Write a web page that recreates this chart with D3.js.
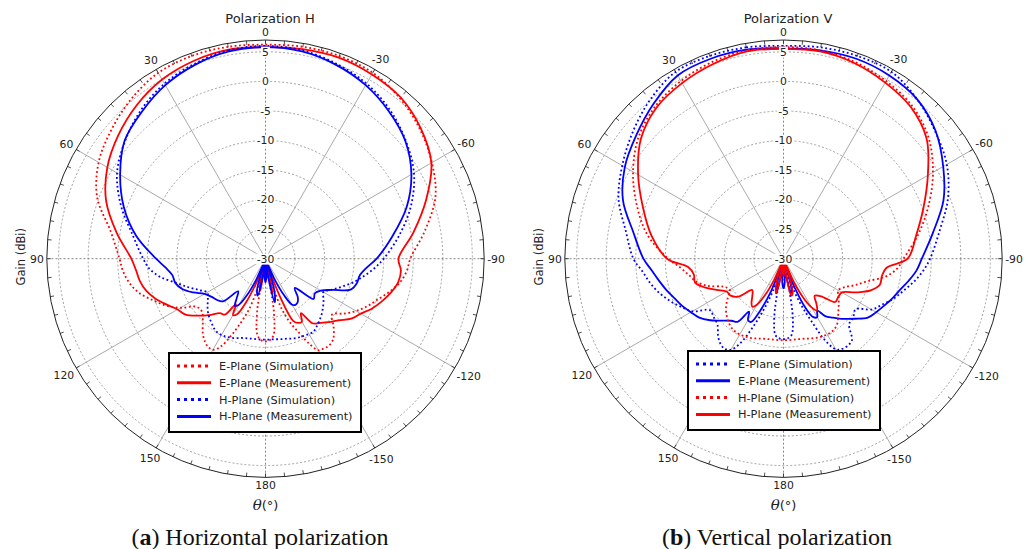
<!DOCTYPE html>
<html>
<head>
<meta charset="utf-8">
<script src="https://cdn.jsdelivr.net/npm/d3@7"></script>
<style>
  body { margin: 0; background: #fff; }
  svg { display: block; }
</style>
</head>
<body>
<svg id="fig" width="1027" height="549"></svg>
<script>
// Angles (deg) of the sampled points; left half = +theta, right half = -theta
const sideAngles = [0,10,20,30,40,50,60,70,80,90,95,100,105,110,115,120,125,130,135,140,144,147,150,153,156,159,162,165,168,171,174,177,180];
const rightAngles = sideAngles.slice(1, -1);

// Gain rings (dBi) and angle tick labels
const gainRings = [5, 0, -5, -10, -15, -20, -25];
const gainLabels = [5, 0, -5, -10, -15, -20, -25, -30];
const angleTicks = [0, 30, 60, 90, 120, 150, 180, -150, -120, -90, -60, -30];
const gainDomain = [-30, 7];

// ---- Polarization H ----
const hEPlaneSimLeft  = [6.2,6.4,6.5,6.3,5.3,4.0,2.6,0.3,-3.4,-5.3,-5.8,-6.6,-7.8,-9.6,-11.3,-13.4,-15.8,-16.0,-15.0,-13.5,-12.6,-12.2,-12.2,-13.3,-15.8,-18.5,-21,-25,-29,-21,-17,-16.2,-16.0];
const hEPlaneSimRight = [6.4,6.5,6.3,5.4,4.1,2.5,0.6,-2.6,-5.5,-6.0,-6.9,-8.3,-9.8,-11.0,-12.3,-13.8,-15.3,-13.7,-12.2,-11.8,-11.9,-12.1,-14.0,-16.5,-18.5,-21,-25,-29,-21,-17,-16.2];
const hEPlaneMeasLeft  = [5.8,5.9,5.6,5.0,3.9,2.5,0.9,-1.3,-4.4,-7.3,-8.0,-8.4,-9.1,-10.2,-11.6,-12.8,-13.5,-15.0,-16.5,-18.0,-18.3,-20.8,-19.0,-19.5,-22,-25.5,-28.5,-29,-25.5,-24.5,-29,-27,-28];
const hEPlaneMeasRight = [6.0,6.2,6.0,5.6,4.3,2.4,-1.1,-4.6,-7.5,-7.0,-7.2,-8.0,-9.0,-10.1,-11.4,-12.3,-13.8,-14.8,-15.8,-16.5,-19.0,-17.7,-17.8,-18.5,-23,-28,-29,-24,-27,-29,-27];
const hHPlaneSimLeft  = [6.0,5.8,5.1,4.2,2.8,1.0,-1.0,-4.0,-7.2,-9.3,-10.3,-12.0,-14.3,-16.0,-17.5,-18.6,-18.1,-17.2,-16.4,-15.8,-15.3,-15.1,-15.1,-15.2,-15.4,-15.6,-15.9,-16.1,-16.2,-16.3,-16.3,-16.3,-16.3];
const hHPlaneSimRight = [5.8,5.1,4.2,2.8,1.0,-1.0,-3.8,-7.0,-10.0,-11.5,-13.1,-14.6,-16.2,-17.6,-18.7,-18.0,-17.3,-16.6,-16.0,-15.5,-15.2,-15.3,-15.4,-15.5,-15.6,-15.8,-16.0,-16.1,-16.2,-16.3,-16.3];
const hHPlaneMeasLeft  = [5.8,5.6,4.9,3.9,2.5,1.1,-1.6,-4.5,-7.8,-11.5,-13.0,-14.0,-14.2,-15.0,-16.5,-18.1,-18.8,-19.2,-19.8,-22.8,-21.7,-20.5,-21.0,-23,-26,-29,-28,-24.5,-23.6,-27,-30,-27,-26];
const hHPlaneMeasRight = [5.6,4.9,3.9,2.5,0.9,-1.5,-4.6,-8.2,-11.2,-12.8,-13.8,-14.0,-14.7,-17.5,-19.2,-19.8,-19.4,-23.0,-21.5,-20.8,-20.7,-21,-23,-26,-29,-28,-24,-22.5,-26,-29,-27];

// ---- Polarization V ----
const vEPlaneSimLeft  = [6.0,6.3,6.5,6.5,5.1,3.3,1.5,-0.3,-2.9,-4.6,-6.0,-7.0,-8.1,-9.4,-10.8,-12.2,-14.8,-14.6,-14.2,-12.8,-12.0,-11.8,-12.2,-14,-17.5,-21,-24.5,-28,-27,-20,-17,-16.5,-16.4];
const vEPlaneSimRight = [6.3,6.5,6.5,5.2,3.5,1.9,-0.4,-3.2,-5.2,-6.3,-7.6,-9.0,-10.2,-11.6,-12.8,-15.1,-14.6,-14.3,-12.0,-11.7,-11.8,-12.3,-14.5,-18.5,-21.5,-24.5,-28,-27,-20,-17,-16.5];
const vEPlaneMeasLeft  = [5.6,5.9,6.0,5.8,4.2,2.5,1.0,-1.1,-4.2,-6.3,-7.6,-8.6,-9.5,-10.4,-11.1,-11.9,-12.6,-13.8,-15.2,-16.3,-16.8,-19.3,-18.0,-18.0,-20.5,-24,-28,-26,-24,-27,-30,-26,-25];
const vEPlaneMeasRight = [5.8,6.0,5.8,5.2,3.6,1.2,-1.2,-4.3,-6.6,-7.4,-8.5,-9.6,-10.4,-11.2,-11.9,-12.6,-14.2,-15.6,-17.0,-18.0,-19.5,-18.6,-18.9,-21,-25,-28,-25,-24,-27,-30,-26];
const vHPlaneSimLeft  = [5.8,5.8,5.4,4.7,3.7,2.0,-0.6,-3.6,-6.6,-10.5,-12.5,-13.8,-14.8,-16.5,-18.8,-19.5,-18.5,-17.3,-16.4,-15.7,-15.3,-15.2,-15.2,-15.3,-15.4,-15.6,-15.8,-16.0,-16.1,-16.2,-16.2,-16.2,-16.2];
const vHPlaneSimRight = [5.8,5.4,4.7,3.8,2.0,-0.8,-3.9,-6.9,-9.7,-10.7,-12.5,-15.3,-17.0,-18.6,-19.3,-18.6,-17.8,-16.9,-15.8,-15.3,-15.2,-15.2,-15.3,-15.4,-15.6,-15.8,-16.0,-16.1,-16.2,-16.2,-16.2];
const vHPlaneMeasLeft  = [5.5,5.6,5.0,4.3,3.4,1.5,-1.6,-4.7,-7.3,-10.3,-13.8,-14.6,-14.5,-15.8,-17.5,-18.9,-19.1,-20.0,-22.5,-21.8,-20.8,-20.3,-21,-23,-26,-29,-27,-25,-24,-27,-30,-28,-27];
const vHPlaneMeasRight = [5.6,5.2,4.4,3.5,1.6,-1.8,-4.8,-7.2,-9.0,-12.5,-13.1,-13.1,-14.3,-16.5,-18.6,-18.7,-18.6,-21.0,-21.8,-20.5,-19.6,-20.5,-22.5,-25.5,-29,-27,-24,-23.6,-27,-30,-28];

const RED = "#ff0000", BLUE = "#0000ff";

// Build closed polar traces: left half 0 -> 180, then right half 177 -> 10
function trace(left, right) {
  const pts = sideAngles.map((a, i) => ({ theta: a, g: left[i] }));
  for (let i = rightAngles.length - 1; i >= 0; i--) pts.push({ theta: -rightAngles[i], g: right[i] });
  return pts;
}

const panels = [
  {
    cx: 265.5, cy: 258.7, title: "Polarization H", capLetter: "a", capText: " Horizontal polarization", capX: 260,
    legendBox: { x: 169, y: 353, w: 192, h: 79 },
    series: [
      { label: "E-Plane (Simulation)",  color: RED,  dotted: true,  data: trace(hEPlaneSimLeft,  hEPlaneSimRight) },
      { label: "E-Plane (Measurement)", color: RED,  dotted: false, data: trace(hEPlaneMeasLeft, hEPlaneMeasRight) },
      { label: "H-Plane (Simulation)",  color: BLUE, dotted: true,  data: trace(hHPlaneSimLeft,  hHPlaneSimRight) },
      { label: "H-Plane (Measurement)", color: BLUE, dotted: false, data: trace(hHPlaneMeasLeft, hHPlaneMeasRight) }
    ]
  },
  {
    cx: 783.5, cy: 258.7, title: "Polarization V", capLetter: "b", capText: " Vertical polarization", capX: 777,
    legendBox: { x: 688, y: 351, w: 192, h: 79 },
    series: [
      { label: "E-Plane (Simulation)",  color: BLUE, dotted: true,  data: trace(vEPlaneSimLeft,  vEPlaneSimRight) },
      { label: "E-Plane (Measurement)", color: BLUE, dotted: false, data: trace(vEPlaneMeasLeft, vEPlaneMeasRight) },
      { label: "H-Plane (Simulation)",  color: RED,  dotted: true,  data: trace(vHPlaneSimLeft,  vHPlaneSimRight) },
      { label: "H-Plane (Measurement)", color: RED,  dotted: false, data: trace(vHPlaneMeasLeft, vHPlaneMeasRight) }
    ]
  }
];

const svg = d3.select("#fig");
const R = 218.7;
const rScale = d3.scaleLinear().domain(gainDomain).range([0, R]).clamp(true);
const rad = d => d * Math.PI / 180;
const SANS = "DejaVu Sans, Verdana, sans-serif";

panels.forEach(p => {
  const g = svg.append("g").attr("transform", `translate(${p.cx},${p.cy})`);
  // position of a polar point (theta positive = counter-clockwise from top)
  const px = (theta, r) => -Math.sin(rad(theta)) * r;
  const py = (theta, r) => -Math.cos(rad(theta)) * r;

  // gain rings
  g.selectAll("circle.ring").data(gainRings).join("circle")
    .attr("class", "ring").attr("r", d => rScale(d))
    .attr("fill", "none").attr("stroke", "#8a8a8a").attr("stroke-width", 0.8)
    .attr("stroke-dasharray", "2,2");

  // spokes every 30 degrees
  const spokes = d3.range(0, 360, 30);
  g.selectAll("line.spoke").data(spokes).join("line")
    .attr("x1", 0).attr("y1", 0)
    .attr("x2", d => px(d, R)).attr("y2", d => py(d, R))
    .attr("stroke", d => d % 90 === 0 ? "#6a6a6a" : "#949494")
    .attr("stroke-width", 0.8)
    .attr("stroke-dasharray", d => d % 90 === 0 ? "2,2" : null);

  // outer circle with inward ticks
  g.append("circle").attr("r", R).attr("fill", "none").attr("stroke", "#222").attr("stroke-width", 1);
  g.selectAll("line.tick").data(d3.range(0, 360, 5)).join("line")
    .attr("x1", d => px(d, R)).attr("y1", d => py(d, R))
    .attr("x2", d => px(d, R - 4)).attr("y2", d => py(d, R - 4))
    .attr("stroke", "#222").attr("stroke-width", 0.8);

  // traces
  const line = d3.lineRadial()
    .angle(d => -rad(d.theta))
    .radius(d => rScale(d.g))
    .curve(d3.curveCatmullRomClosed.alpha(0.5));
  g.selectAll("path.trace").data(p.series).join("path")
    .attr("class", "trace")
    .attr("d", d => line(d.data))
    .attr("fill", "none")
    .attr("stroke", d => d.color)
    .attr("stroke-width", 1.8)
    .attr("stroke-dasharray", d => d.dotted ? "1.8,2.6" : null);

  // gain labels along the vertical axis, on white boxes
  const gl = g.selectAll("g.glabel").data(gainLabels).join("g")
    .attr("transform", d => `translate(0,${-rScale(d)})`);
  gl.append("text").text(d => d)
    .attr("text-anchor", "middle").attr("dy", "0.36em")
    .attr("font-family", SANS).attr("font-size", 10.8).attr("fill", "#222");
  gl.each(function() {
    const t = d3.select(this).select("text");
    const b = t.node().getBBox();
    d3.select(this).insert("rect", "text")
      .attr("x", b.x - 1).attr("y", b.y + 1).attr("width", b.width + 2).attr("height", b.height - 2)
      .attr("fill", "#fff");
  });

  // angle labels outside the circle
  g.selectAll("text.alabel").data(angleTicks).join("text")
    .attr("class", "alabel")
    .text(d => d)
    .attr("font-family", SANS).attr("font-size", 10.8).attr("fill", "#222")
    .attr("text-anchor", "middle").attr("dy", "0.36em")
    .each(function(d) {
      const w = this.getComputedTextLength();
      const s = Math.abs(Math.sin(rad(d))), c = Math.abs(Math.cos(rad(d)));
      const off = R + 3 + s * w / 2 + c * 4.5;
      d3.select(this).attr("x", px(d, off)).attr("y", py(d, off));
    });

  // title
  svg.append("text").attr("x", p.cx + 4.5).attr("y", 23)
    .attr("text-anchor", "middle").attr("font-family", SANS).attr("font-size", 13).attr("fill", "#222")
    .text(p.title);

  // radial axis title
  svg.append("text")
    .attr("transform", `translate(${p.cx - 245},${p.cy - 2}) rotate(-90)`)
    .attr("text-anchor", "middle").attr("dy", "0.36em")
    .attr("font-family", SANS).attr("font-size", 11.5).attr("fill", "#222")
    .text("Gain (dBi)");

  // angular axis title
  const th = svg.append("text").attr("x", p.cx).attr("y", 510).attr("text-anchor", "middle")
    .attr("font-size", 15).attr("fill", "#222");
  th.append("tspan").attr("font-family", "DejaVu Serif, serif").attr("font-style", "italic").text("θ");
  th.append("tspan").attr("font-family", SANS).attr("font-size", 13).text("(°)");

  // legend
  const lb = p.legendBox;
  const lg = svg.append("g").attr("transform", `translate(${lb.x},${lb.y})`);
  lg.append("rect").attr("width", lb.w).attr("height", lb.h)
    .attr("fill", "#fff").attr("stroke", "#000").attr("stroke-width", 2);
  const rows = lg.selectAll("g.row").data(p.series).join("g")
    .attr("transform", (d, i) => `translate(0,${13 + i * 16.8})`);
  rows.append("line").attr("x1", 8).attr("x2", 42).attr("y1", 0).attr("y2", 0)
    .attr("stroke", d => d.color).attr("stroke-width", 3)
    .attr("stroke-dasharray", d => d.dotted ? "3,4" : null);
  rows.append("text").attr("x", 50).attr("dy", "0.36em")
    .attr("font-family", SANS).attr("font-size", 11.3).attr("fill", "#222")
    .text(d => d.label);

  // caption
  const cap = svg.append("text").attr("x", p.capX).attr("y", 545).attr("text-anchor", "middle")
    .attr("font-family", "Liberation Serif, Times New Roman, serif").attr("font-size", 24).attr("fill", "#111");
  cap.append("tspan").text("(");
  cap.append("tspan").attr("font-weight", "bold").text(p.capLetter);
  cap.append("tspan").text(")" + p.capText);
});
</script>
</body>
</html>
